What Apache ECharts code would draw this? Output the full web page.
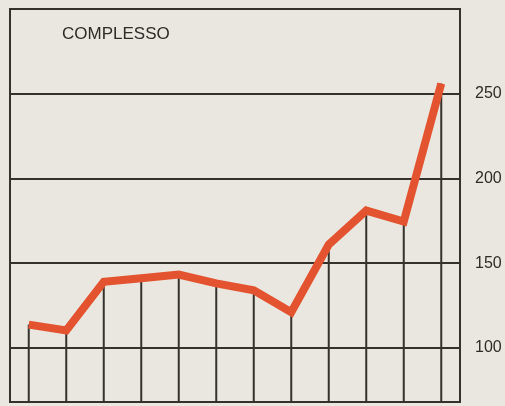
<!DOCTYPE html>
<html>
<head>
<meta charset="utf-8">
<script src="https://cdn.jsdelivr.net/npm/echarts@6/dist/echarts.min.js"></script>
<style>
html,body{margin:0;padding:0;background:#e9e7df;}
#c{width:505px;height:406px;}
</style>
</head>
<body>
<div id="c"></div>
<script>
var categories = ['1','2','3','4','5','6','7','8','9','10','11','12'];
var values = [113.7, 110.2, 139, 141, 143.2, 138, 134, 121, 161, 181, 174.5, 256];
var tickValues = [100, 150, 200, 250];
var titleText = 'COMPLESSO';

var chart = echarts.init(document.getElementById('c'), null, {renderer: 'canvas'});
chart.setOption({
  backgroundColor: '#e9e7df',
  animation: false,
  title: {
    text: titleText,
    left: 57, top: 21,
    textStyle: {fontFamily: 'Liberation Sans, Arial, sans-serif', fontSize: 17, fontWeight: 'normal', color: '#2e2b28'}
  },
  grid: {
    left: 10, right: 45, top: 9, bottom: 4,
    show: true, borderColor: '#35312d', borderWidth: 2, backgroundColor: 'transparent'
  },
  xAxis: {
    type: 'category', data: categories, boundaryGap: true,
    axisLine: {show: false}, axisTick: {show: false}, axisLabel: {show: false}, splitLine: {show: false}
  },
  yAxis: {
    type: 'value', min: 68, max: 300, position: 'right',
    axisLine: {show: false}, axisTick: {show: false}, splitLine: {show: false},
    axisLabel: {
      customValues: tickValues, margin: 15, color: '#2e2b28',
      fontFamily: 'Liberation Sans, Arial, sans-serif', fontSize: 16
    }
  },
  series: [
    {
      type: 'bar', data: values, barWidth: 2,
      itemStyle: {color: '#35312d'}, silent: true, z: 2,
      markLine: {
        symbol: 'none', silent: true, label: {show: false},
        lineStyle: {color: '#35312d', width: 1.8, type: 'solid'},
        data: tickValues.map(function (v) { return {yAxis: v}; })
      }
    },
    {
      type: 'line', data: values, showSymbol: false, z: 5,
      lineStyle: {color: '#e4532f', width: 8, join: 'miter', cap: 'butt'}
    }
  ]
});
</script>
</body>
</html>
